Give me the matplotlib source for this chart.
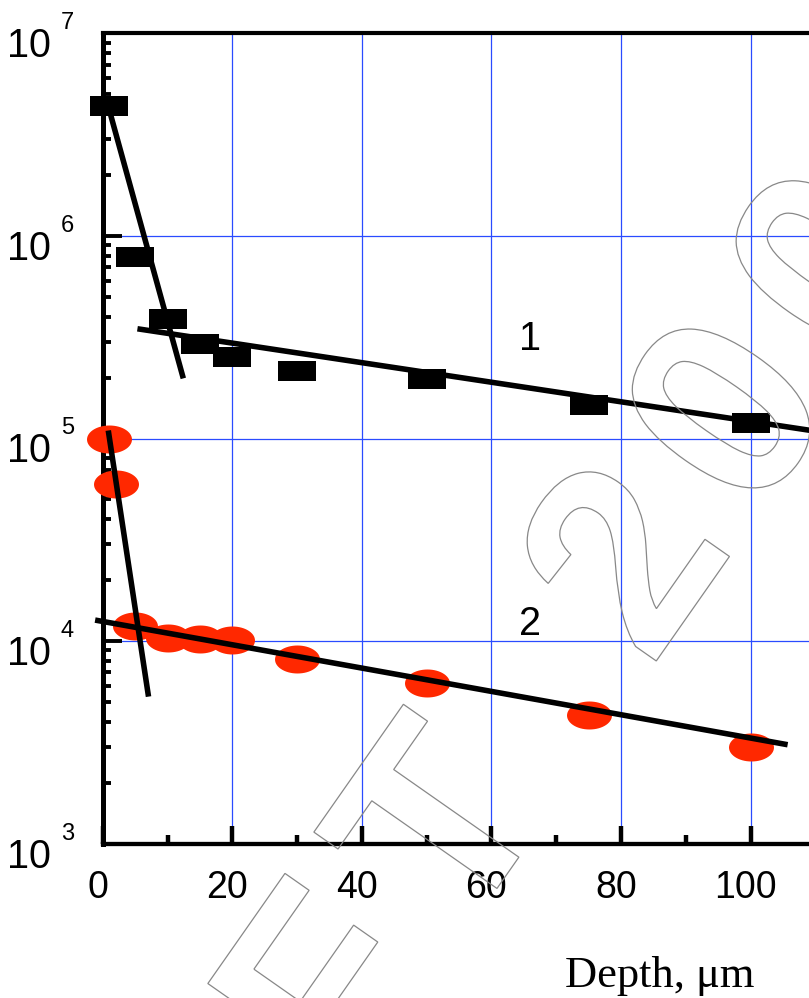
import numpy as np
import matplotlib
matplotlib.use("Agg")
import matplotlib.pyplot as plt
from matplotlib.path import Path
from matplotlib.patches import PathPatch
from matplotlib.textpath import TextPath
from matplotlib.font_manager import FontProperties
import matplotlib.transforms as mtransforms
from matplotlib.ticker import FixedLocator, MultipleLocator, LogLocator, NullFormatter

# ---------------- data ----------------
depth1 = [1, 5, 10, 15, 20, 30, 50, 75, 100]
conc1 = [4.36e6, 7.83e5, 3.89e5, 2.94e5, 2.53e5, 2.15e5, 1.97e5, 1.47e5, 1.19e5]

depth2 = [1, 2, 5, 10, 15, 20, 30, 50, 75, 100]
conc2 = [1.0e5, 5.98e4, 1.19e4, 1.03e4, 1.02e4, 1.01e4, 8.2e3, 6.21e3, 4.33e3, 3.01e3]

# fitted straight lines (end points)
fit1a_x = [1.14, 12.44]
fit1a_y = [4.05e6, 1.98e5]
fit1b_x = [5.36, 110.0]
fit1b_y = [3.48e5, 1.087e5]
fit2a_x = [0.86, 7.07]
fit2a_y = [1.095e5, 5.32e3]
fit2b_x = [-1.17, 105.7]
fit2b_y = [1.27e4, 3.08e3]

xtick_vals = [0, 20, 40, 60, 80, 100]
xtick_labels = ["0", "20", "40", "60", "80", "100"]
ytick_vals = [1e3, 1e4, 1e5, 1e6, 1e7]
ytick_exps = ["3", "4", "5", "6", "7"]

series_labels = ["1", "2"]
series_label_x = [66.0, 66.0]
series_label_y = [2.73e5, 1.07e4]

x_title = "Depth, \u03bcm"
watermark_glyphs = ["F", "T", "2", "0", "0", "9"]

# ---------------- figure ----------------
W, H, DPI = 809, 998, 100
fig = plt.figure(figsize=(W / DPI, H / DPI), dpi=DPI)
fig.patch.set_facecolor("white")
ax = fig.add_axes([102.7 / W, 1 - 843.7 / H, 712.8 / W, 810.4 / H])
ax.set_xlim(0, 110)
ax.set_yscale("log")
ax.set_ylim(1e3, 1e7)

RED = "#ff2800"
rect = Path([(-19, -10), (19, -10), (19, 10), (-19, 10), (-19, -10)], closed=True)
t = np.linspace(0, 2 * np.pi, 61)
ell = Path(np.column_stack([22.5 * np.cos(t), 14.0 * np.sin(t)]), closed=True)

ax.plot(depth1, conc1, linestyle="none", marker=rect, markersize=27.4,
        color="black", markeredgewidth=0, zorder=3, clip_on=False)
ax.plot(depth2, conc2, linestyle="none", marker=ell, markersize=32.4,
        color=RED, markeredgewidth=0, zorder=3, clip_on=False)

for fx, fy in [(fit1a_x, fit1a_y), (fit1b_x, fit1b_y), (fit2a_x, fit2a_y), (fit2b_x, fit2b_y)]:
    ax.plot(fx, fy, color="black", lw=4.0, solid_capstyle="butt", zorder=4, clip_on=False)

# spines
for side in ["left", "bottom", "top"]:
    ax.spines[side].set_color("black")
ax.spines["left"].set_linewidth(3.6)
ax.spines["bottom"].set_linewidth(3.1)
ax.spines["top"].set_linewidth(3.0)
ax.spines["right"].set_visible(False)

# ticks
ax.xaxis.set_major_locator(FixedLocator(xtick_vals))
ax.set_xticklabels(xtick_labels)
ax.xaxis.set_minor_locator(MultipleLocator(10))
ax.yaxis.set_major_locator(FixedLocator(ytick_vals))
ax.yaxis.set_minor_locator(LogLocator(base=10, subs=range(2, 10)))
ax.yaxis.set_minor_formatter(NullFormatter())
ax.tick_params(axis="x", which="major", direction="in", length=13, width=3.2,
               labelsize=27, pad=19, top=False)
ax.tick_params(axis="x", which="minor", direction="in", length=6.5, width=3.2, top=False)
ax.tick_params(axis="y", which="major", direction="in", length=14, width=2.8,
               right=False, labelleft=False)
ax.tick_params(axis="y", which="minor", direction="in", length=6, width=2.8, right=False)
shift = mtransforms.ScaledTranslation(-5 / DPI, 0, fig.dpi_scale_trans)
for lab in ax.get_xticklabels():
    lab.set_family("Liberation Sans")
    lab.set_transform(lab.get_transform() + shift)

ax.grid(True, which="major", color="#2a4bff", lw=0.9)
ax.set_axisbelow(True)

# y tick labels: 10 with superscript exponent
tr10 = mtransforms.offset_copy(ax.get_yaxis_transform(), fig=fig, x=-95.3, y=-24, units="dots")
trexp = mtransforms.offset_copy(ax.get_yaxis_transform(), fig=fig, x=-42, y=4, units="dots")
for v, e in zip(ytick_vals, ytick_exps):
    ax.text(0, v, "10", transform=tr10, ha="left", va="baseline", fontsize=28.5,
            family="Liberation Sans", clip_on=False)
    ax.text(0, v, e, transform=trexp, ha="left", va="baseline", fontsize=17,
            family="Liberation Sans", clip_on=False)

# series labels
for s, sx, sy in zip(series_labels, series_label_x, series_label_y):
    ax.text(sx, sy, s, ha="center", va="baseline", fontsize=28.5, family="Liberation Sans")

fig.text(565.4 / W, 11.3 / H, x_title, ha="left", va="baseline", fontsize=32,
         family="Liberation Serif")

# watermark (outlined, rotated)
fp = FontProperties(family="Liberation Sans", weight="bold")
wm_targets = [(-552, "max"), (-501.6, "min"), (-165, "min"), (16, "min"), (197, "min"), (378, "min")]
for ch, (tb, mode) in zip(watermark_glyphs, wm_targets):
    tp = TextPath((0, 0), ch, size=265, prop=fp)
    ext = tp.get_extents()
    b0 = tb - (ext.x1 if mode == "max" else ext.x0)
    tr = (mtransforms.Affine2D().translate(b0, -916.7).rotate_deg(55)
          .translate(0, H).scale(1 / DPI) + fig.dpi_scale_trans)
    fig.add_artist(PathPatch(tp, transform=tr, facecolor="none", edgecolor="#888888",
                             lw=0.9, zorder=10))

fig.savefig("out.png", dpi=DPI, facecolor="white")
